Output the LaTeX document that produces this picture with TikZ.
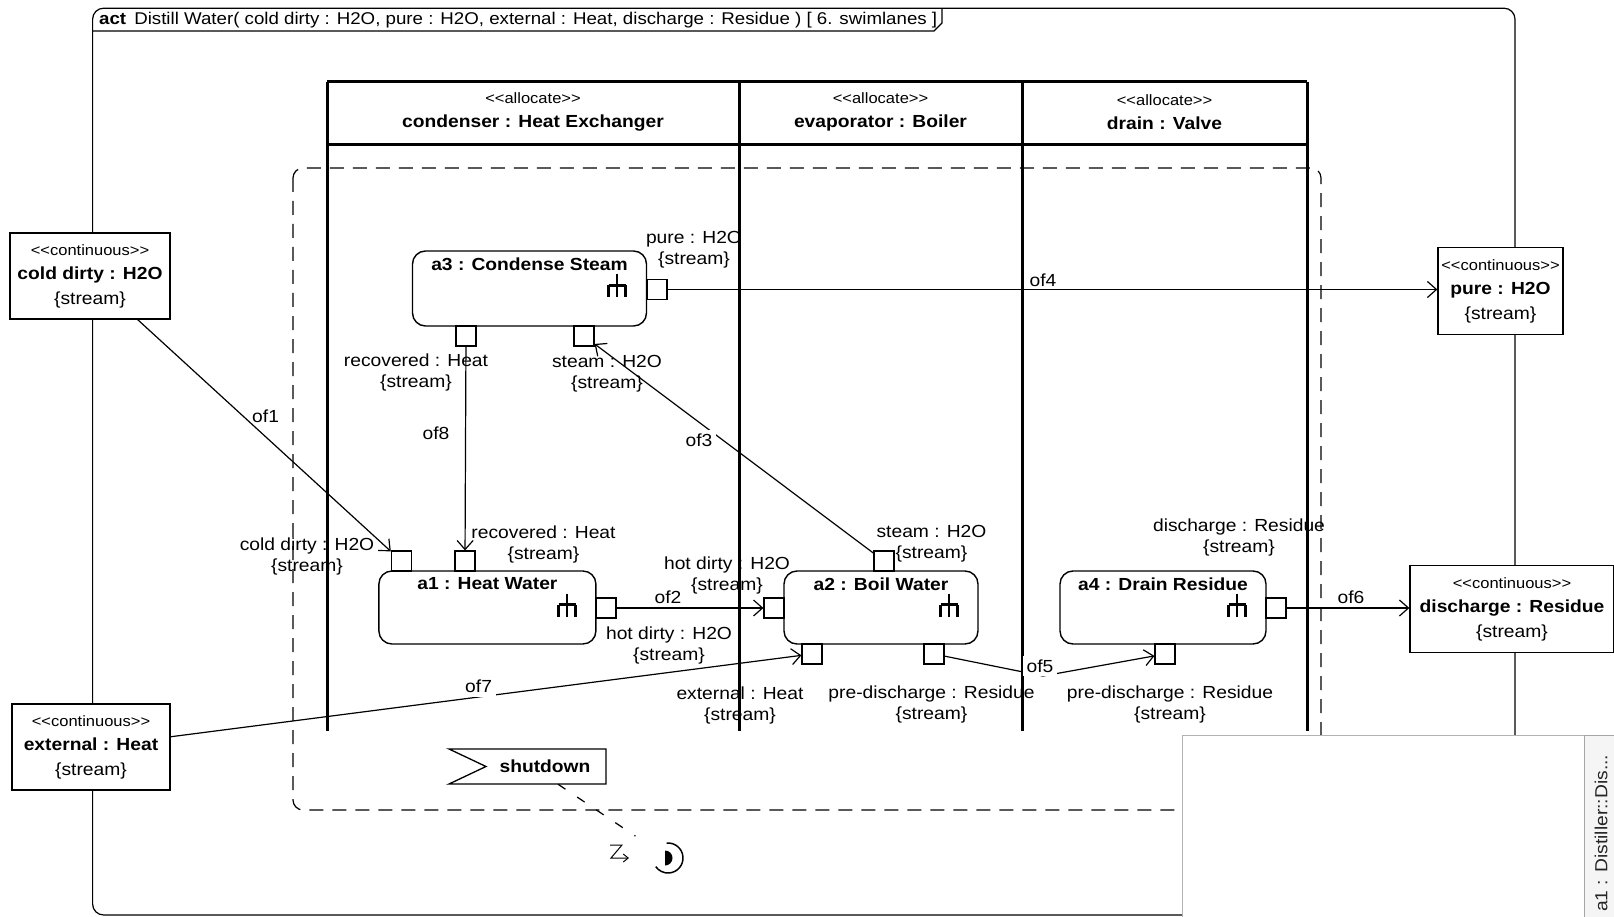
\documentclass[tikz,border=0pt]{standalone}
\usepackage{fontspec}
\setmainfont{Liberation Sans}[FakeStretch=1.1]
\usetikzlibrary{arrows.meta}
\usetikzlibrary{shapes}

\newcommand{\stereo}[1]{{\fontsize{15}{21}\selectfont<\kern0pt<#1>\kern0pt>}}
\newcommand{\rakeIcon}[2]{\draw[line width=2.2pt] (#1,#2) ++(0pt,11pt) -- ++(0pt,-23pt) (#1,#2) ++(-8.5pt,0pt) -- ++(17pt,0pt) (#1,#2) ++(-8.5pt,0pt) -- ++(0pt,-12pt) (#1,#2) ++(8.5pt,0pt) -- ++(0pt,-12pt);}

\begin{document}
\begin{tikzpicture}[x=1pt, y=-1pt, font=\fontsize{17.5}{21}\selectfont]
	\useasboundingbox (0,0) rectangle (1614,917);
	\tikzstyle{frameStyle}=[line width=1.2pt, rounded corners=11pt]
	\tikzstyle{laneStyle}=[line width=3pt]
	\tikzstyle{regionStyle}=[line width=1.2pt, dash pattern=on 14pt off 9pt, rounded corners=10pt]
	\tikzstyle{paramStyle}=[shape=rectangle, draw, fill=white, line width=1.3pt, align=center, inner sep=0pt]
	\tikzstyle{actionStyle}=[shape=rectangle, draw, fill=white, line width=1.4pt, rounded corners=13pt, inner sep=0pt]
	\tikzstyle{titleStyle}=[font=\fontsize{17.5}{21}\selectfont\bfseries, anchor=north, yshift=-7pt, inner sep=0pt]
	\tikzstyle{pinStyle}=[shape=rectangle, draw, fill=white, line width=1.2pt, minimum size=20pt, inner sep=0pt]
	\tikzstyle{pinLabelStyle}=[align=center, inner sep=0pt]
	\tikzstyle{flowStyle}=[line width=1.2pt, -{Straight Barb[length=9pt, width=16pt]}]
	\tikzstyle{flowLabelStyle}=[inner sep=1pt]
	\tikzstyle{cutLabelStyle}=[inner sep=4pt, fill=white]
	\draw[frameStyle] (92.6,8.2) rectangle (1515,915);
	\draw[line width=1.2pt] (92.6,31) -- (934,31) -- (942,23) -- (942,8.2);
	\node[anchor=west, inner sep=0pt, font=\fontsize{17}{21}\selectfont] (title) at (99,20) {\textbf{act}\, Distill Water( cold dirty : H2O, pure : H2O, external : Heat, discharge : Residue ) [ 6. swimlanes ]};
	\draw[laneStyle] (327,82) -- (1307,82);
	\draw[laneStyle] (327,145) -- (1307,145);
	\draw[laneStyle] (327,82) -- (327,731);
	\draw[laneStyle] (739,82) -- (739,731);
	\draw[laneStyle] (1022,82) -- (1022,731);
	\draw[laneStyle] (1307,82) -- (1307,731);
	\node[align=center] (condenser) at (533,112) {\stereo{allocate}\\[3.5pt]\textbf{condenser : Heat Exchanger}};
	\node[align=center] (evaporator) at (880.5,112) {\stereo{allocate}\\[3.5pt]\textbf{evaporator : Boiler}};
	\node[align=center] (drain) at (1164.5,112) {\stereo{allocate}\\[3.5pt]\textbf{drain : Valve}};
	\draw[regionStyle] (293,168) rectangle (1321,810);
	\node[paramStyle, minimum width=160pt, minimum height=86pt] (colddirty) at (90,276) {\stereo{continuous}\\[3.5pt]\textbf{cold dirty : H2O}\\[3.5pt]\{stream\}};
	\node[paramStyle, minimum width=125pt, minimum height=87pt] (pure) at (1500.5,291) {\stereo{continuous}\\[3.5pt]\textbf{pure : H2O}\\[3.5pt]\{stream\}};
	\node[paramStyle, minimum width=204pt, minimum height=87pt] (discharge) at (1512,609) {\stereo{continuous}\\[3.5pt]\textbf{discharge : Residue}\\[3.5pt]\{stream\}};
	\node[paramStyle, minimum width=158pt, minimum height=86pt] (external) at (91,747) {\stereo{continuous}\\[3.5pt]\textbf{external : Heat}\\[3.5pt]\{stream\}};
	\node[actionStyle, minimum width=234pt, minimum height=75pt] (a3) at (529.5,288.5) {};
	\node[titleStyle] (a3title) at (a3.north) {a3 : Condense Steam};
	\rakeIcon{617}{285.5}
	\node[actionStyle, minimum width=217pt, minimum height=73pt] (a1) at (487.4,607.5) {};
	\node[titleStyle] (a1title) at (a1.north) {a1 : Heat Water};
	\rakeIcon{567}{604.5}
	\node[actionStyle, minimum width=194pt, minimum height=73pt] (a2) at (881,607.5) {};
	\node[titleStyle] (a2title) at (a2.north) {a2 : Boil Water};
	\rakeIcon{949}{604.5}
	\node[actionStyle, minimum width=206pt, minimum height=73pt] (a4) at (1163,607.5) {};
	\node[titleStyle] (a4title) at (a4.north) {a4 : Drain Residue};
	\rakeIcon{1237}{604.5}
	\node[pinStyle] (a3pure) at (657,289.5) {};
	\node[pinStyle] (a3rec) at (466,336) {};
	\node[pinStyle] (a3steam) at (584,336) {};
	\node[pinStyle] (a1cold) at (401.4,561) {};
	\node[pinStyle] (a1rec) at (465,561) {};
	\node[pinStyle] (a1out) at (606,608) {};
	\node[pinStyle] (a2in) at (774,608) {};
	\node[pinStyle] (a2steam) at (884,561) {};
	\node[pinStyle] (a2ext) at (812,654) {};
	\node[pinStyle] (a2pre) at (934,654) {};
	\node[pinStyle] (a4pre) at (1165,654) {};
	\node[pinStyle] (a4out) at (1276,608) {};
	\node[pinLabelStyle] (a3pureLabel) at (694,249.5) {pure : H2O\\\{stream\}};
	\node[pinLabelStyle] (a3recLabel) at (416,372.5) {recovered : Heat\\\{stream\}};
	\node[pinLabelStyle] (a3steamLabel) at (607,374) {steam : H2O\\\{stream\}};
	\node[pinLabelStyle] (a1coldLabel) at (307,556) {cold dirty : H2O\\\{stream\}};
	\node[pinLabelStyle] (a1recLabel) at (543.5,544) {recovered : Heat\\\{stream\}};
	\node[pinLabelStyle] (a1outLabel) at (669,645.5) {hot dirty : H2O\\\{stream\}};
	\node[pinLabelStyle] (a2inLabel) at (727,575) {hot dirty : H2O\\\{stream\}};
	\node[pinLabelStyle] (a2steamLabel) at (931.5,544) {steam : H2O\\\{stream\}};
	\node[pinLabelStyle] (a2extLabel) at (740,705.5) {external : Heat\\\{stream\}};
	\node[pinLabelStyle] (a2preLabel) at (931.5,704.5) {pre-discharge : Residue\\\{stream\}};
	\node[pinLabelStyle] (a4disLabel) at (1239,537) {discharge : Residue\\\{stream\}};
	\node[pinLabelStyle] (a4preLabel) at (1170,704.5) {pre-discharge : Residue\\\{stream\}};
	\coordinate (of5bend) at (1043,676);
	\draw[flowStyle] (colddirty) -- (a1cold);
	\draw[flowStyle] (a1out) -- (a2in);
	\draw[flowStyle] (a2steam) -- (a3steam);
	\draw[flowStyle] (a3pure) -- (a3pure -| pure.west);
	\draw[flowStyle] (a2pre) -- (of5bend) -- (a4pre);
	\draw[flowStyle] (a4out) -- (a4out -| discharge.west);
	\draw[flowStyle] (external) -- (a2ext);
	\draw[flowStyle] (a3rec) -- (a1rec);
	\node[flowLabelStyle] (of1) at (265.6,416) {of1};
	\node[flowLabelStyle] (of2) at (668,597) {of2};
	\node[cutLabelStyle] (of3) at (699,440) {of3};
	\node[flowLabelStyle] (of4) at (1043,280) {of4};
	\node[cutLabelStyle] (of5) at (1040,666) {of5};
	\node[flowLabelStyle] (of6) at (1351,597) {of6};
	\node[cutLabelStyle] (of7) at (478.6,686.5) {of7};
	\node[flowLabelStyle] (of8) at (436,433) {of8};
	\node[font=\fontsize{17.5}{21}\selectfont\bfseries, minimum height=35pt, inner sep=0pt] (shutdown) at (545,766.5) {shutdown};
	\draw[line width=1.3pt] (449,749) -- (606,749) -- (606,784) -- (449,784) -- (486,766.5) -- cycle;
	\node[shape=circle, minimum size=30pt, inner sep=0pt] (final) at (668,858) {};
	\draw[line width=1.2pt, dash pattern=on 9pt off 14pt, shorten >=24pt] ([xshift=13pt]shutdown.south) -- (final);
	\draw[line width=1pt, -{Straight Barb[length=5pt, width=8pt]}] (610,845) -- (622,845) -- (611,858) -- (629,858);
	\draw[line width=1.5pt] ([shift={(95:15pt)}]final.center) arc[start angle=95, end angle=-145, radius=15pt];
	\fill ([shift={(-3pt,7.5pt)}]final.center) arc[start angle=90, end angle=-90, radius=7.5pt] -- cycle;
	\draw[gray!60, fill=white, line width=1pt] (1182,735) rectangle (1584,917);
	\draw[gray!70, fill=gray!8, line width=1pt] (1584,735) rectangle (1614,917);
	\node[rotate=90, anchor=west, inner sep=0pt, text=black!85] (overview) at (1601,912) {a1 : Distiller::Dis...};
\end{tikzpicture}
\end{document}
